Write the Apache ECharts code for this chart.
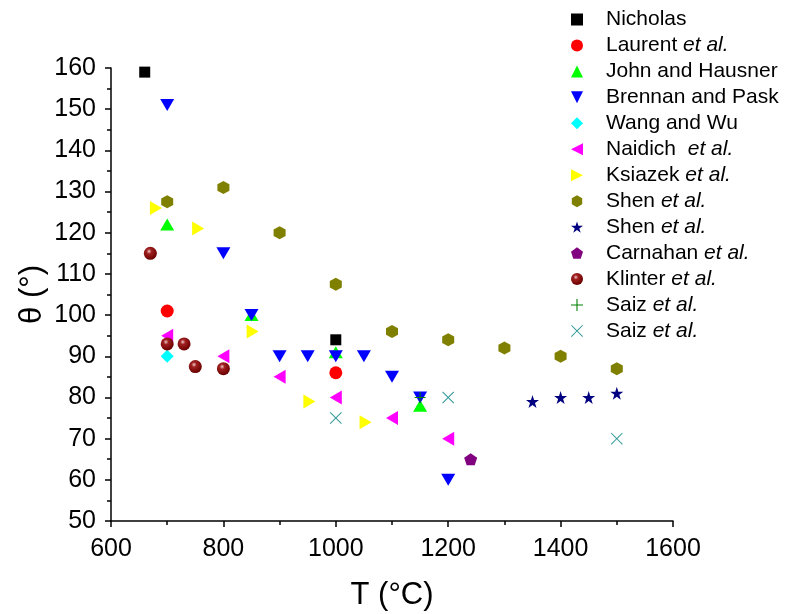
<!DOCTYPE html>
<html><head><meta charset="utf-8">
<script src="https://cdn.jsdelivr.net/npm/echarts@6/dist/echarts.min.js"></script>
<style>html,body{margin:0;padding:0;background:#fff}#c{width:787px;height:614px}</style>
</head><body><div id="c"></div>
<script>
// ---- data ----
var xTicks = [600, 800, 1000, 1200, 1400, 1600];
var yTicks = [50, 60, 70, 80, 90, 100, 110, 120, 130, 140, 150, 160];

var nicholasT = [660, 1000];
var nicholasTheta = [159, 94];
var laurentT = [700, 1000];
var laurentTheta = [101, 86];
var johnT = [700, 850, 1000, 1150];
var johnTheta = [122, 100, 91, 78];
var brennanT = [700, 800, 850, 900, 950, 1000, 1050, 1100, 1150, 1200];
var brennanTheta = [151, 115, 100, 90, 90, 90, 90, 85, 80, 60];
var wangT = [700];
var wangTheta = [90];
var naidichT = [700, 800, 900, 1000, 1100, 1200];
var naidichTheta = [95, 90, 85, 80, 75, 70];
var ksiazekT = [680, 755, 852, 953, 1053];
var ksiazekTheta = [126, 121, 96, 79, 74];
var shenHexT = [700, 800, 900, 1000, 1100, 1200, 1300, 1400, 1500];
var shenHexTheta = [127.5, 131, 120, 107.5, 96, 94, 92, 90, 87];
var shenStarT = [1350, 1400, 1450, 1500];
var shenStarTheta = [79, 80, 80, 81];
var carnahanT = [1240];
var carnahanTheta = [65];
var klinterT = [670, 700, 730, 750, 800];
var klinterTheta = [115, 93, 93, 87.5, 87];
var saizPlusT = [1150];
var saizPlusTheta = [80];
var saizCrossT = [1000, 1200, 1500];
var saizCrossTheta = [75, 80, 70];

var legendLabels = ['Nicholas', 'Laurent|et al.', 'John and Hausner', 'Brennan and Pask', 'Wang and Wu',
  'Naidich |et al.', 'Ksiazek|et al.', 'Shen|et al.', 'Shen|et al.', 'Carnahan|et al.', 'Klinter|et al.',
  'Saiz|et al.', 'Saiz|et al.'];

// ---- build ----
function pts(xs, ys) { return xs.map(function (x, i) { return [x, ys[i]]; }); }
var TUP = 'path://M0,-1L1,1L-1,1Z';
var TDOWN = 'path://M-1,-1L1,-1L0,1Z';
var TLEFT = 'path://M-1,0L1,-1L1,1Z';
var TRIGHT = 'path://M1,0L-1,-1L-1,1Z';
var HEX = 'path://M0,-1L0.866,-0.5L0.866,0.5L0,1L-0.866,0.5L-0.866,-0.5Z';
var STAR = 'path://M0,-1L0.2245,-0.309L0.951,-0.309L0.3633,0.118L0.5878,0.809L0,0.382L-0.5878,0.809L-0.3633,0.118L-0.951,-0.309L-0.2245,-0.309Z';
var PENT = 'path://M0,-1L0.951,-0.309L0.5878,0.809L-0.5878,0.809L-0.951,-0.309Z';
var PLUS = 'path://M-0.09,-1L0.09,-1L0.09,-0.09L1,-0.09L1,0.09L0.09,0.09L0.09,1L-0.09,1L-0.09,0.09L-1,0.09L-1,-0.09L-0.09,-0.09Z';
var CROSS = 'path://M-1,-0.88L-0.88,-1L0,-0.12L0.88,-1L1,-0.88L0.12,0L1,0.88L0.88,1L0,0.12L-0.88,1L-1,0.88L-0.12,0Z';

var defs = [
  { n: 's0', d: pts(nicholasT, nicholasTheta), sym: 'rect', size: 11, c: '#000000' },
  { n: 's1', d: pts(laurentT, laurentTheta), sym: 'circle', size: 13, c: '#ff0000' },
  { n: 's2', d: pts(johnT, johnTheta), sym: TUP, size: [14, 12], c: '#00ff00' },
  { n: 's3', d: pts(brennanT, brennanTheta), sym: TDOWN, size: [14, 12], c: '#0000ff' },
  { n: 's4', d: pts(wangT, wangTheta), sym: 'diamond', size: [13, 13], c: '#00ffff' },
  { n: 's5', d: pts(naidichT, naidichTheta), sym: TLEFT, size: [12, 14], c: '#ff00ff' },
  { n: 's6', d: pts(ksiazekT, ksiazekTheta), sym: TRIGHT, size: [12, 14], c: '#ffff00' },
  { n: 's7', d: pts(shenHexT, shenHexTheta), sym: HEX, size: [12, 13], c: '#808000' },
  { n: 's8', d: pts(shenStarT, shenStarTheta), sym: STAR, size: [13, 13], c: '#000080' },
  { n: 's9', d: pts(carnahanT, carnahanTheta), sym: PENT, size: [13, 12], c: '#800080' },
  { n: 's10', d: pts(klinterT, klinterTheta), sym: 'circle', size: 13, c: '#800000', sphere: true },
  { n: 's11', d: pts(saizPlusT, saizPlusTheta), sym: PLUS, size: [11, 11], c: '#008000' },
  { n: 's12', d: pts(saizCrossT, saizCrossTheta), sym: CROSS, size: [12, 12], c: '#339999' }
];

var series = defs.map(function (s) {
  var color = s.sphere ? {
    type: 'radial', x: 0.4, y: 0.35, r: 0.65,
    colorStops: [{ offset: 0, color: '#f0c8c8' }, { offset: 0.3, color: '#a02020' }, { offset: 1, color: '#6a0000' }]
  } : s.c;
  return {
    name: s.n, type: 'scatter', data: s.d, symbol: s.sym, symbolSize: s.size,
    itemStyle: { color: color, opacity: 1 }, z: 3
  };
});

var FONT = 'Liberation Sans';
var rich = {
  p: { width: 18, fontSize: 21, lineHeight: 21 },
  n: { fontSize: 21, lineHeight: 21, fontFamily: FONT, color: '#000' },
  i: { fontSize: 21, lineHeight: 21, fontFamily: FONT, fontStyle: 'italic', color: '#000' }
};

var option = {
  backgroundColor: '#fff',
  animation: false,
  grid: { left: 111, right: 114, top: 68, bottom: 93, outerBoundsMode: 'none' },
  legend: {
    orient: 'vertical', left: 566, top: 4, itemWidth: 12, itemHeight: 12, itemGap: 4.95,
    data: defs.map(function (s) { return s.n; }),
    formatter: function (name) {
      var idx = parseInt(name.slice(1), 10);
      var p = legendLabels[idx].split('|');
      if (p.length === 1) return '{p|}{n|' + p[0] + '}';
      return '{p|}{n|' + p[0] + ' }{i|' + p[1] + '}';
    },
    textStyle: { rich: rich, fontSize: 21, fontFamily: FONT },
    selectedMode: false
  },
  xAxis: {
    type: 'value', min: xTicks[0], max: xTicks[xTicks.length - 1], interval: 200,
    name: 'T (°C)', nameLocation: 'middle', nameGap: 59, nameMoveOverlap: false,
    nameTextStyle: { fontSize: 31, fontFamily: FONT, color: '#000' },
    axisLine: { onZero: false, lineStyle: { color: '#000', width: 1.5 } },
    axisTick: { length: 6, lineStyle: { color: '#000', width: 1.5 } },
    minorTick: { show: true, splitNumber: 2, length: 4, lineStyle: { color: '#000', width: 1.5 } },
    splitLine: { show: false },
    axisLabel: { fontSize: 25, fontFamily: FONT, color: '#000', margin: 16,
      formatter: function (v) { return String(v); } }
  },
  yAxis: {
    type: 'value', min: yTicks[0], max: yTicks[yTicks.length - 1], interval: 10,
    name: 'θ (°)', nameLocation: 'middle', nameGap: 63, nameRotate: 90, nameMoveOverlap: false,
    nameTextStyle: { fontSize: 31, fontFamily: FONT, color: '#000' },
    axisLine: { show: true, onZero: false, lineStyle: { color: '#000', width: 1.5 } },
    axisTick: { show: true, length: 6, lineStyle: { color: '#000', width: 1.5 } },
    minorTick: { show: true, splitNumber: 2, length: 4, lineStyle: { color: '#000', width: 1.5 } },
    splitLine: { show: false },
    axisLabel: { fontSize: 25, fontFamily: FONT, color: '#000', margin: 15,
      formatter: function (v) { return String(v); } }
  },
  series: series
};
var chart = echarts.init(document.getElementById('c'), null, { renderer: 'canvas' });
chart.setOption(option);
</script>
</body></html>
